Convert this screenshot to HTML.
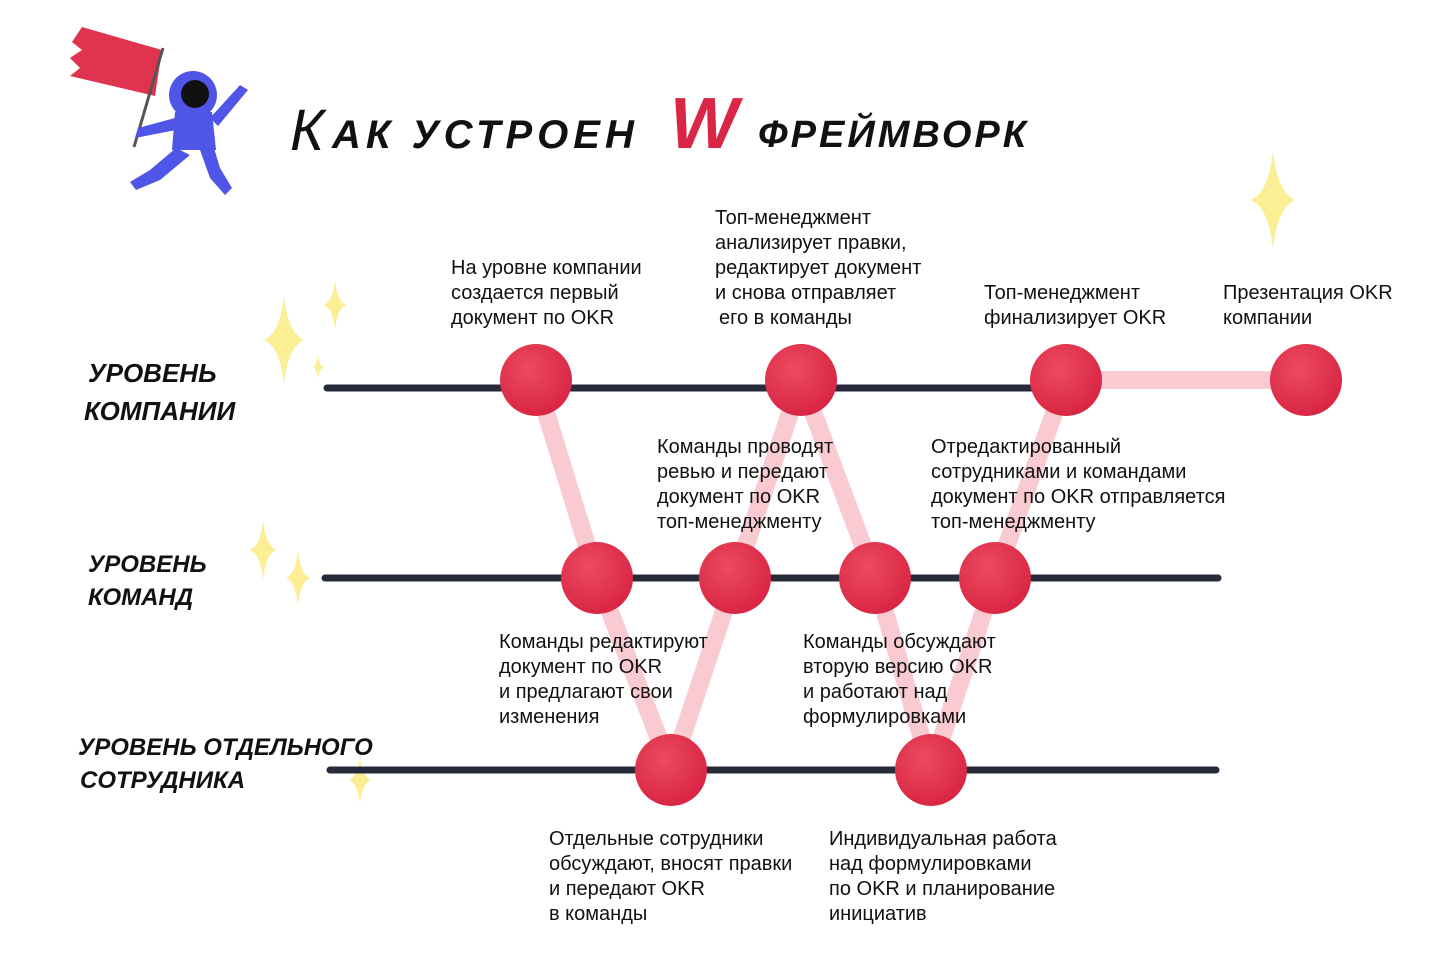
<!DOCTYPE html>
<html><head><meta charset="utf-8"><style>
html,body{margin:0;padding:0;background:#fff;}
svg{display:block;}
.t{font-family:"Liberation Sans","Noto Sans CJK SC",sans-serif;font-size:20px;fill:#111;}
.h{font-family:"Liberation Sans","Noto Sans CJK SC",sans-serif;font-weight:bold;font-style:italic;fill:#111;}
</style></head><body>
<svg width="1444" height="971" viewBox="0 0 1444 971" xmlns="http://www.w3.org/2000/svg">
<defs>
<radialGradient id="rg" cx="40%" cy="35%" r="65%">
<stop offset="0" stop-color="#ec4a60"/><stop offset="1" stop-color="#d92644"/>
</radialGradient>
<g id="spark"><path d="M0,-50 Q4,-8 22,0 Q4,8 0,50 Q-4,8 -22,0 Q-4,-8 0,-50Z" fill="#fbee94"/></g>
</defs>

<!-- astronaut -->
<path d="M82,27 L162,50 L155,96 L70,76 L80,68 L70,58 L82,50 L72,42Z" fill="#e0334f"/>
<line x1="163" y1="48" x2="134" y2="147" stroke="#555" stroke-width="3"/>
<circle cx="193" cy="95" r="24" fill="#4f55e6"/>
<circle cx="195" cy="94" r="14" fill="#111"/>
<path d="M175,112 L212,112 L216,150 L172,150Z" fill="#4f55e6"/>
<path d="M175,118 L138,128 L135,138 L176,130Z" fill="#4f55e6"/>
<path d="M210,118 L240,85 L248,90 L218,126Z" fill="#4f55e6"/>
<path d="M176,148 L150,170 L130,182 L136,190 L160,180 L190,155Z" fill="#4f55e6"/>
<path d="M200,150 L210,178 L225,195 L232,188 L220,168 L214,148Z" fill="#4f55e6"/>

<!-- title -->
<text x="290" y="150" class="h" font-size="58" style="font-weight:normal">К</text>
<text x="332" y="148" class="h" font-size="40" letter-spacing="5">АК УСТРОЕН</text>
<text x="670" y="148" class="h" font-size="72" style="fill:#d92644">W</text>
<text x="758" y="147" class="h" font-size="38" letter-spacing="3">ФРЕЙМВОРК</text>

<!-- sparkles -->
<use href="#spark" transform="translate(1273,200)"/>
<use href="#spark" transform="translate(284,340) scale(0.9)"/>
<use href="#spark" transform="translate(335,305) scale(0.5)"/>
<use href="#spark" transform="translate(318,367) scale(0.25)"/>
<use href="#spark" transform="translate(263,550) scale(0.6)"/>
<use href="#spark" transform="translate(298,578) scale(0.55)"/>
<use href="#spark" transform="translate(360,780) scale(0.5)"/>

<!-- level labels -->
<text x="88" y="382" class="h" font-size="26">УРОВЕНЬ</text>
<text x="84" y="420" class="h" font-size="26">КОМПАНИИ</text>
<text x="88" y="572" class="h" font-size="24">УРОВЕНЬ</text>
<text x="88" y="605" class="h" font-size="24">КОМАНД</text>
<text x="78" y="755" class="h" font-size="24">УРОВЕНЬ ОТДЕЛЬНОГО</text>
<text x="80" y="788" class="h" font-size="24">СОТРУДНИКА</text>

<!-- lines -->
<line x1="327" y1="388" x2="1040" y2="388" stroke="#272a3a" stroke-width="7" stroke-linecap="round"/>
<line x1="325" y1="578" x2="1218" y2="578" stroke="#272a3a" stroke-width="7" stroke-linecap="round"/>
<line x1="330" y1="770" x2="1216" y2="770" stroke="#272a3a" stroke-width="7" stroke-linecap="round"/>

<!-- connectors -->
<g stroke="#f8c4cc" stroke-width="18" stroke-linecap="round" fill="none" opacity="0.9">
<polyline points="536,380 597,578 671,770 735,578 801,380 875,578 931,770 995,578 1066,380 1306,380"/>
</g>

<!-- circles -->
<g fill="url(#rg)">
<circle cx="536" cy="380" r="36"/><circle cx="801" cy="380" r="36"/>
<circle cx="1066" cy="380" r="36"/><circle cx="1306" cy="380" r="36"/>
<circle cx="597" cy="578" r="36"/><circle cx="735" cy="578" r="36"/>
<circle cx="875" cy="578" r="36"/><circle cx="995" cy="578" r="36"/>
<circle cx="671" cy="770" r="36"/><circle cx="931" cy="770" r="36"/>
</g>

<!-- labels -->
<text class="t"><tspan x="451" y="274">На уровне компании</tspan><tspan x="451" y="299">создается первый</tspan><tspan x="451" y="324">документ по OKR</tspan></text>
<text class="t"><tspan x="715" y="224">Топ-менеджмент</tspan><tspan x="715" y="249">анализирует правки,</tspan><tspan x="715" y="274">редактирует документ</tspan><tspan x="715" y="299">и снова отправляет</tspan><tspan x="719" y="324">его в команды</tspan></text>
<text class="t"><tspan x="984" y="299">Топ-менеджмент</tspan><tspan x="984" y="324">финализирует OKR</tspan></text>
<text class="t"><tspan x="1223" y="299">Презентация OKR</tspan><tspan x="1223" y="324">компании</tspan></text>
<text class="t"><tspan x="657" y="453">Команды проводят</tspan><tspan x="657" y="478">ревью и передают</tspan><tspan x="657" y="503">документ по OKR</tspan><tspan x="657" y="528">топ-менеджменту</tspan></text>
<text class="t"><tspan x="931" y="453">Отредактированный</tspan><tspan x="931" y="478">сотрудниками и командами</tspan><tspan x="931" y="503">документ по OKR отправляется</tspan><tspan x="931" y="528">топ-менеджменту</tspan></text>
<text class="t"><tspan x="499" y="648">Команды редактируют</tspan><tspan x="499" y="673">документ по OKR</tspan><tspan x="499" y="698">и предлагают свои</tspan><tspan x="499" y="723">изменения</tspan></text>
<text class="t"><tspan x="803" y="648">Команды обсуждают</tspan><tspan x="803" y="673">вторую версию OKR</tspan><tspan x="803" y="698">и работают над</tspan><tspan x="803" y="723">формулировками</tspan></text>
<text class="t"><tspan x="549" y="845">Отдельные сотрудники</tspan><tspan x="549" y="870">обсуждают, вносят правки</tspan><tspan x="549" y="895">и передают OKR</tspan><tspan x="549" y="920">в команды</tspan></text>
<text class="t"><tspan x="829" y="845">Индивидуальная работа</tspan><tspan x="829" y="870">над формулировками</tspan><tspan x="829" y="895">по OKR и планирование</tspan><tspan x="829" y="920">инициатив</tspan></text>
</svg>
</body></html>
